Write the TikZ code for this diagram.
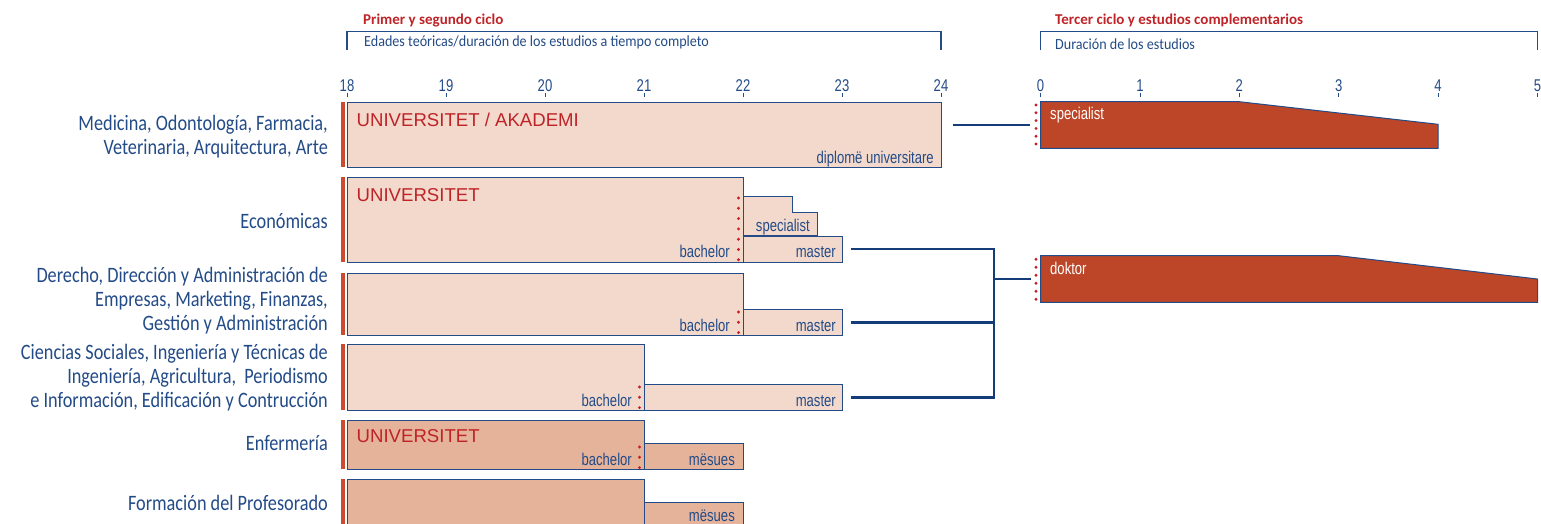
\documentclass[tikz,border=0pt]{standalone}
\usepackage{fontspec}
\setmainfont{Carlito}
\newfontfamily\sidefont[FakeStretch=0.83]{Carlito}
\newfontfamily\subfont[FakeStretch=0.91]{Carlito}
\newfontfamily\headfont{Carlito}
\newfontfamily\narrowfont[FakeStretch=0.77]{Liberation Sans}
\newfontfamily\capfont{Liberation Sans}
\usepackage{xcolor}
\usetikzlibrary{positioning}

\definecolor{navy}{RGB}{35,75,135}
\definecolor{linenavy}{RGB}{20,60,120}
\definecolor{peach}{RGB}{243,217,204}
\definecolor{peachdark}{RGB}{229,179,154}
\definecolor{rust}{RGB}{189,70,40}
\definecolor{titlered}{RGB}{190,35,40}
\definecolor{barred}{RGB}{205,75,50}
\definecolor{dotred}{RGB}{200,30,30}

\tikzset{
  box/.style={draw=navy, line width=1pt, fill=peach, inner sep=0pt, anchor=north west},
  darkbox/.style={box, fill=peachdark},
  boxline/.style={draw=navy, line width=1pt, fill=peach},
  rustshape/.style={draw=navy, line width=1pt, fill=rust},
  lab/.style={font=\narrowfont\fontsize{17}{20}\selectfont, text=navy, inner sep=0pt, anchor=base east},
  whitelab/.style={lab, text=white, anchor=base west},
  uni/.style={font=\capfont\fontsize{18.6}{22}\selectfont, text=titlered, inner sep=0pt, anchor=base west},
  ticklab/.style={font=\narrowfont\fontsize{17}{20}\selectfont, text=navy, inner sep=0pt, anchor=base},
  side/.style={font=\sidefont\fontsize{22}{24}\selectfont, text=navy, align=right, anchor=east, inner sep=0pt},
  head/.style={font=\headfont\bfseries\fontsize{15}{18}\selectfont, text=titlered, inner sep=0pt, anchor=base west},
  sub/.style={font=\subfont\fontsize{15.5}{18}\selectfont, text=navy, inner sep=0pt, anchor=base west},
  tick/.style={draw=navy, line width=0.8pt},
  bracket/.style={draw=navy, line width=1.2pt},
  conn/.style={draw=linenavy, line width=2.5pt},
  redbar/.style={fill=barred},
  dots/.style={draw=dotred, line width=3.2pt, line cap=round, dash pattern=on 0pt off 10.3pt},
}

\begin{document}
\begin{tikzpicture}[x=1pt, y=-1pt]
  \useasboundingbox (0,0) rectangle (1541,523);
  \clip (0,0) rectangle (1541,523);

  % Headers
  \node[head] (headA) at (363,24) {Primer y segundo ciclo};
  \node[sub] (subA) at (364,46) {Edades teóricas/duración de los estudios a tiempo completo};
  \draw[bracket] (347,50) -- (347,31.7) -- (941,31.7) -- (941,50);
  \node[head] (headB) at (1055,24) {Tercer ciclo y estudios complementarios};
  \node[sub] (subB) at (1055,49) {Duración de los estudios};
  \draw[bracket] (1040.5,50) -- (1040.5,31.7) -- (1537.5,31.7) -- (1537.5,50);

  % Axes
  \foreach \i in {0,...,6} {
    \pgfmathtruncatemacro{\age}{18+\i}
    \draw[tick] (347+99*\i,92.7) -- ++(0,4);
    \node[ticklab] (age\age) at (347+99*\i,91) {\age};
  }
  \foreach \d in {0,...,5} {
    \draw[tick] (1040.5+99.4*\d,92.7) -- ++(0,4);
    \node[ticklab] (dur\d) at (1040.5+99.4*\d,91) {\d};
  }

  % Left labels
  \node[side] (medName) at (328,137) {Medicina, Odontología, Farmacia,\\Veterinaria, Arquitectura, Arte};
  \node[side] (ecoName) at (328,221) {Económicas};
  \node[side] (derName) at (328,301) {Derecho, Dirección y Administración de\\Empresas, Marketing, Finanzas,\\Gestión y Administración};
  \node[side] (cieName) at (328,378) {Ciencias Sociales, Ingeniería y Técnicas de\\Ingeniería, Agricultura,\ \ Periodismo\\e Información, Edificación y Contrucción};
  \node[side] (enfName) at (328,443.3) {Enfermería};
  \node[side] (forName) at (328,502.7) {Formación del Profesorado};

  % Red bars
  \foreach \t/\b in {101.7/167.3, 177.3/261.7, 273.3/335, 344.3/410, 420/469, 479/540}
    \fill[redbar] (341,\t) rectangle (344.5,\b);

  % Medicina
  \node[box, minimum width=594pt, minimum height=65.6pt] (medBox) at (347,101.7) {};
  \node[uni] (medUni) at ([xshift=9.5pt, yshift=-24.5pt]medBox.north west) {UNIVERSITET / AKADEMI};
  \node[lab] (medDip) at ([xshift=-8pt, yshift=5pt]medBox.south east) {diplomë universitare};

  % Economicas
  \node[box, minimum width=396pt, minimum height=84.4pt] (ecoBox) at (347,177.3) {};
  \node[uni] (ecoUni) at ([xshift=9.5pt, yshift=-24.5pt]ecoBox.north west) {UNIVERSITET};
  \node[lab] (ecoBach) at ([xshift=-14pt, yshift=5pt]ecoBox.south east) {bachelor};
  \draw[boxline] (743,196.7) -- (792.5,196.7) -- (792.5,212.7) -- (817,212.7) -- (817,235.7) -- (743,235.7) -- cycle;
  \node[lab] (ecoSpec) at (810,231) {specialist};
  \node[box, minimum width=99pt, minimum height=26pt] (ecoMaster) at (743,235.7) {};
  \node[lab] (ecoMast) at ([xshift=-7pt, yshift=5pt]ecoMaster.south east) {master};
  \draw[dots] (738.5,198) -- (738.5,260.5);

  % Derecho
  \node[box, minimum width=396pt, minimum height=61.7pt] (derBox) at (347,273.3) {};
  \node[lab] (derBach) at ([xshift=-14pt, yshift=5pt]derBox.south east) {bachelor};
  \node[box, minimum width=99pt, minimum height=25.7pt] (derMaster) at (743,309.3) {};
  \node[lab] (derMast) at ([xshift=-7pt, yshift=5pt]derMaster.south east) {master};
  \draw[dots] (738.5,312) -- (738.5,332.8);

  % Ciencias Sociales
  \node[box, minimum width=297pt, minimum height=65.7pt] (cieBox) at (347,344.3) {};
  \node[lab] (cieBach) at ([xshift=-13pt, yshift=5pt]cieBox.south east) {bachelor};
  \node[box, minimum width=198pt, minimum height=25.7pt] (cieMaster) at (644,384.3) {};
  \node[lab] (cieMast) at ([xshift=-7pt, yshift=5pt]cieMaster.south east) {master};
  \draw[dots] (639.5,387) -- (639.5,407.8);

  % Enfermeria
  \node[darkbox, minimum width=297pt, minimum height=49pt] (enfBox) at (347,420) {};
  \node[uni] (enfUni) at ([xshift=9.5pt, yshift=-22.5pt]enfBox.north west) {UNIVERSITET};
  \node[lab] (enfBach) at ([xshift=-13pt, yshift=5pt]enfBox.south east) {bachelor};
  \node[darkbox, minimum width=99pt, minimum height=26.3pt] (enfMes) at (644,442.7) {};
  \node[lab] (enfMesLab) at ([xshift=-9pt, yshift=5pt]enfMes.south east) {mësues};
  \draw[dots] (639.5,447) -- (639.5,467.8);

  % Formacion
  \node[darkbox, minimum width=297pt, minimum height=61pt] (forBox) at (347,479) {};
  \node[darkbox, minimum width=99pt, minimum height=40pt] (forMes) at (644,502.3) {};
  \node[lab] (forMesLab) at ([xshift=-9pt, yshift=-19pt]forMes.north east) {mësues};

  % Third cycle
  \draw[rustshape] (1040.5,101.7) -- (1239.3,101.7) -- (1438.1,124.3) -- (1438.1,148.3) -- (1040.5,148.3) -- cycle;
  \node[whitelab] (specLab) at (1050,119) {specialist};
  \draw[dots, dash pattern=on 0pt off 7.8pt] (1036,105) -- (1036,144.5);
  \draw[rustshape] (1040.5,255.7) -- (1338.7,255.7) -- (1537.5,279) -- (1537.5,302.3) -- (1040.5,302.3) -- cycle;
  \node[whitelab] (docLab) at (1050,274) {doktor};
  \draw[dots, dash pattern=on 0pt off 8pt] (1036,259.3) -- (1036,299.6);

  % Connectors
  \coordinate (specIn) at (1030,125);
  \coordinate (docIn) at (1031,279);
  \coordinate (joint) at (994,279);
  \coordinate (medOut) at ([xshift=11pt]medBox.east);
  \coordinate (ecoOut) at ([xshift=8pt]ecoMaster.east);
  \coordinate (derOut) at ([xshift=8pt]derMaster.east);
  \coordinate (cieOut) at ([xshift=8pt]cieMaster.east);
  \draw[conn] (medOut |- specIn) -- (specIn);
  \draw[conn] (ecoOut) -- (ecoOut -| joint) -- (cieOut -| joint) -- (cieOut);
  \draw[conn] (derOut) -- (derOut -| joint);
  \draw[conn] (joint) -- (docIn);
\end{tikzpicture}
\end{document}
